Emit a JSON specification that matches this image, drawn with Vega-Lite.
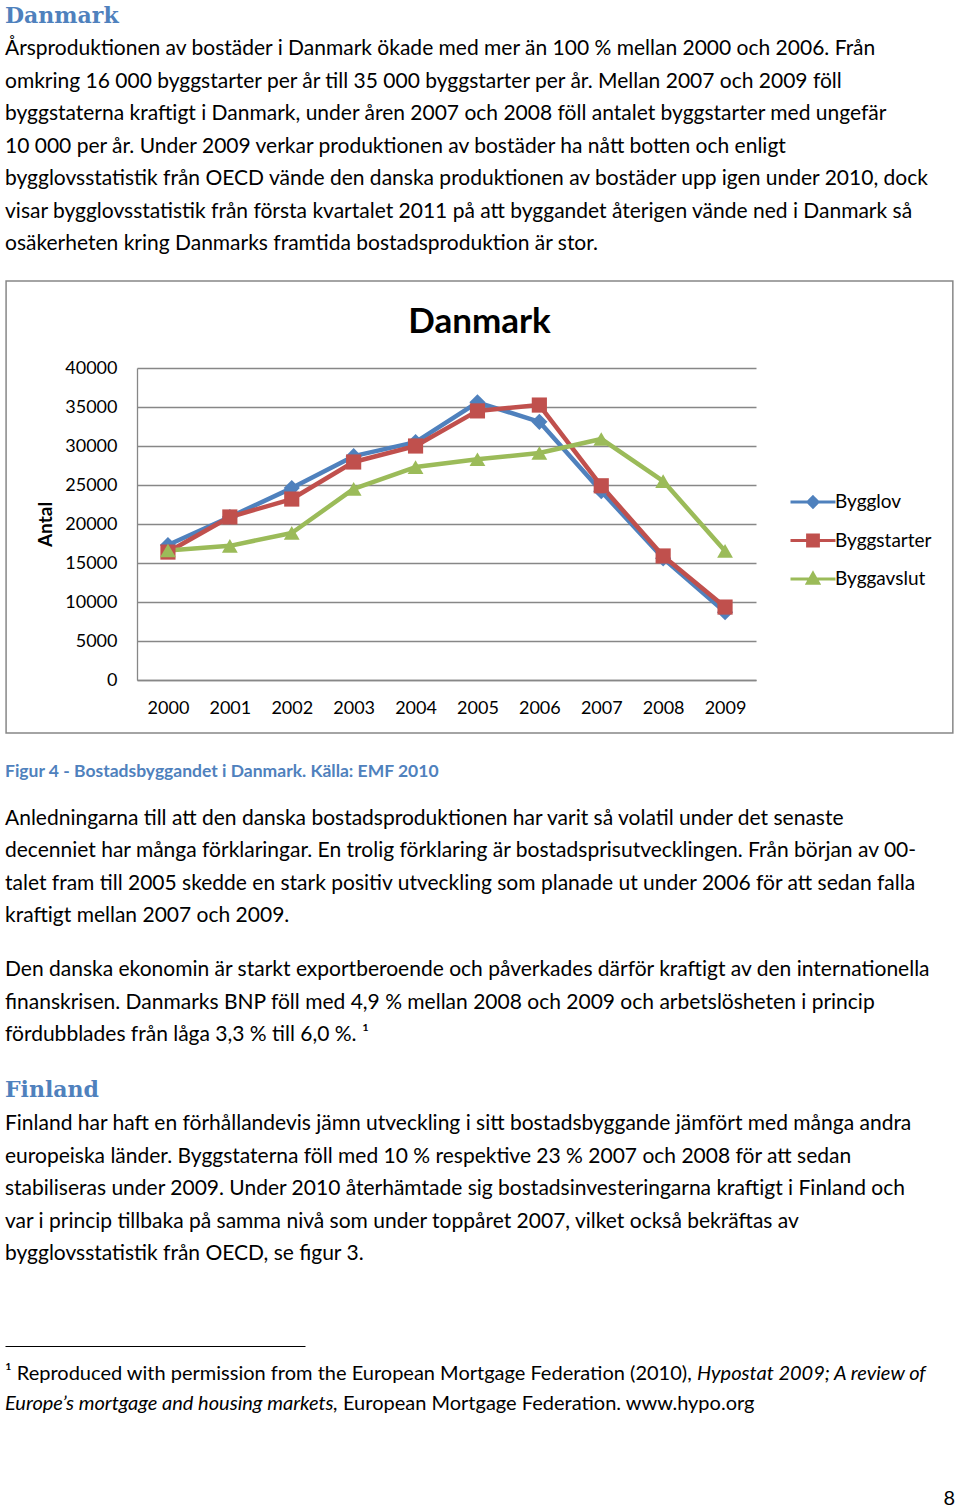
{
  "$schema": "https://vega.github.io/schema/vega-lite/v6.json",
  "background": "white",
  "padding": {"left": 5, "top": 5, "right": 0, "bottom": 0},
  "spacing": 0,
  "config": {"view": {"stroke": null}, "title": {"anchor": "start", "frame": "group", "offset": 0}},
  "vconcat": [
    {
      "spacing": 0,
      "vconcat": [
        {
          "width": 950, "height": 25,
          "data": {"values": [{}]},
          "mark": {"type": "text", "text": "", "fontSize": 0},
          "title": {
            "text": "Danmark", "orient": "top", "anchor": "start", "dx": -132,
            "font": "DejaVu Serif", "fontSize": 22, "fontWeight": "bold", "color": "#4F81BD", "offset": 0,
            "subtitle": [
              "Årsproduktionen av bostäder i Danmark ökade med mer än 100 % mellan 2000 och 2006. Från",
              "omkring 16 000 byggstarter per år till 35 000 byggstarter per år. Mellan 2007 och 2009 föll",
              "byggstaterna kraftigt i Danmark, under åren 2007 och 2008 föll antalet byggstarter med ungefär",
              "10 000 per år. Under 2009 verkar produktionen av bostäder ha nått botten och enligt",
              "bygglovsstatistik från OECD vände den danska produktionen av bostäder upp igen under 2010, dock",
              "visar bygglovsstatistik från första kvartalet 2011 på att byggandet återigen vände ned i Danmark så",
              "osäkerheten kring Danmarks framtida bostadsproduktion är stor."
            ],
            "subtitleFont": "Lato", "subtitleFontSize": 21, "subtitleFontWeight": "normal",
            "subtitleColor": "#000000", "subtitleLineHeight": 32.5, "subtitlePadding": 10
          }
        },
        {
          "width": 619, "height": 312,
          "title": {"text": "Danmark", "orient": "top", "anchor": "middle", "frame": "bounds", "font": "Lato", "fontSize": 35, "fontWeight": "bold", "color": "#000000", "offset": -60},
          "data": {"values": [
            {"year": 2000, "serie": "Bygglov", "value": 17300},
            {"year": 2001, "serie": "Bygglov", "value": 20900},
            {"year": 2002, "serie": "Bygglov", "value": 24600},
            {"year": 2003, "serie": "Bygglov", "value": 28700},
            {"year": 2004, "serie": "Bygglov", "value": 30500},
            {"year": 2005, "serie": "Bygglov", "value": 35600},
            {"year": 2006, "serie": "Bygglov", "value": 33100},
            {"year": 2007, "serie": "Bygglov", "value": 24200},
            {"year": 2008, "serie": "Bygglov", "value": 15600},
            {"year": 2009, "serie": "Bygglov", "value": 8700},
            {"year": 2000, "serie": "Byggstarter", "value": 16400},
            {"year": 2001, "serie": "Byggstarter", "value": 20900},
            {"year": 2002, "serie": "Byggstarter", "value": 23200},
            {"year": 2003, "serie": "Byggstarter", "value": 27950},
            {"year": 2004, "serie": "Byggstarter", "value": 30000},
            {"year": 2005, "serie": "Byggstarter", "value": 34500},
            {"year": 2006, "serie": "Byggstarter", "value": 35250},
            {"year": 2007, "serie": "Byggstarter", "value": 24900},
            {"year": 2008, "serie": "Byggstarter", "value": 15900},
            {"year": 2009, "serie": "Byggstarter", "value": 9350},
            {"year": 2000, "serie": "Byggavslut", "value": 16600},
            {"year": 2001, "serie": "Byggavslut", "value": 17200},
            {"year": 2002, "serie": "Byggavslut", "value": 18850},
            {"year": 2003, "serie": "Byggavslut", "value": 24500},
            {"year": 2004, "serie": "Byggavslut", "value": 27300},
            {"year": 2005, "serie": "Byggavslut", "value": 28300},
            {"year": 2006, "serie": "Byggavslut", "value": 29100},
            {"year": 2007, "serie": "Byggavslut", "value": 30900},
            {"year": 2008, "serie": "Byggavslut", "value": 25500},
            {"year": 2009, "serie": "Byggavslut", "value": 16550}
          ]},
          "layer": [
            {
              "transform": [{"filter": "datum.serie === 'Bygglov'"}],
              "mark": {"type": "line", "strokeWidth": 4.5, "strokeJoin": "round", "color": "#4F81BD"},
              "encoding": {
                "x": {"field": "year", "type": "quantitative",
                  "scale": {"domain": [1999.5, 2009.5], "nice": false, "zero": false},
                  "axis": {"values": [2000, 2001, 2002, 2003, 2004, 2005, 2006, 2007, 2008, 2009], "format": "d", "title": null,
                    "labelFont": "Lato", "labelFontSize": 18, "labelColor": "#000000", "labelPadding": 19, "labelFlush": false, "labelOverlap": false,
                    "ticks": false, "tickSize": 0, "grid": false, "domain": true, "domainColor": "#878787", "domainWidth": 1.3}},
                "y": {"field": "value", "type": "quantitative",
                  "scale": {"domain": [0, 40000], "nice": false},
                  "axis": {"values": [0, 5000, 10000, 15000, 20000, 25000, 30000, 35000, 40000], "tickCount": 9, "format": "d",
                    "labelFont": "Lato", "labelFontSize": 18, "labelColor": "#000000", "labelPadding": 20, "labelOverlap": false, "labelFlush": false,
                    "ticks": false, "tickSize": 0, "domain": true, "domainColor": "#878787", "domainWidth": 1.3,
                    "grid": true, "gridColor": "#878787", "gridWidth": 1.3,
                    "title": "Antal", "titleFont": "Lato", "titleFontSize": 19, "titleFontWeight": "bold", "titleColor": "#000000", "titlePadding": 9}}
              }
            },
            {
              "data": {"values": [{}]},
              "mark": {"type": "rect", "fill": "transparent", "stroke": "#878787", "strokeWidth": 1.5},
              "encoding": {
                "x": {"datum": 1997.385, "type": "quantitative", "scale": {"domain": [1999.5, 2009.5], "nice": false, "zero": false},
                  "axis": {"values": [2000, 2001, 2002, 2003, 2004, 2005, 2006, 2007, 2008, 2009], "format": "d", "title": null,
                    "labelFont": "Lato", "labelFontSize": 18, "labelColor": "#000000", "labelPadding": 19, "labelFlush": false, "labelOverlap": false,
                    "ticks": false, "tickSize": 0, "grid": false, "domain": true, "domainColor": "#878787", "domainWidth": 1.3}},
                "x2": {"datum": 2012.68},
                "y": {"datum": 51154, "type": "quantitative", "scale": {"domain": [0, 40000], "nice": false},
                  "axis": {"values": [0, 5000, 10000, 15000, 20000, 25000, 30000, 35000, 40000], "tickCount": 9, "format": "d",
                    "labelFont": "Lato", "labelFontSize": 18, "labelColor": "#000000", "labelPadding": 20, "labelOverlap": false, "labelFlush": false,
                    "ticks": false, "tickSize": 0, "domain": true, "domainColor": "#878787", "domainWidth": 1.3,
                    "grid": true, "gridColor": "#878787", "gridWidth": 1.3,
                    "title": "Antal", "titleFont": "Lato", "titleFontSize": 19, "titleFontWeight": "bold", "titleColor": "#000000", "titlePadding": 9}},
                "y2": {"datum": -6795}
              }
            },
            {
              "transform": [{"filter": "datum.serie === 'Byggstarter'"}],
              "mark": {"type": "line", "strokeWidth": 4.5, "strokeJoin": "round", "color": "#C0504D"},
              "encoding": {"x": {"field": "year", "type": "quantitative"}, "y": {"field": "value", "type": "quantitative"}}
            },
            {
              "transform": [{"filter": "datum.serie === 'Byggavslut'"}],
              "mark": {"type": "line", "strokeWidth": 4.5, "strokeJoin": "round", "color": "#9BBB59"},
              "encoding": {"x": {"field": "year", "type": "quantitative"}, "y": {"field": "value", "type": "quantitative"}}
            },
            {
              "transform": [{"filter": "datum.serie === 'Bygglov'"}],
              "mark": {"type": "point", "shape": "diamond", "filled": true, "size": 260, "color": "#4F81BD", "opacity": 1},
              "encoding": {"x": {"field": "year", "type": "quantitative"}, "y": {"field": "value", "type": "quantitative"}}
            },
            {
              "transform": [{"filter": "datum.serie === 'Byggstarter'"}],
              "mark": {"type": "point", "shape": "square", "filled": true, "size": 230, "color": "#C0504D", "opacity": 1},
              "encoding": {"x": {"field": "year", "type": "quantitative"}, "y": {"field": "value", "type": "quantitative"}}
            },
            {
              "transform": [{"filter": "datum.serie === 'Byggavslut'"}],
              "mark": {"type": "point", "shape": "triangle-up", "filled": true, "size": 250, "color": "#9BBB59", "opacity": 1},
              "encoding": {"x": {"field": "year", "type": "quantitative"}, "y": {"field": "value", "type": "quantitative"}}
            },
            {
              "transform": [{"filter": "false"}],
              "mark": {"type": "point", "filled": true, "size": 506, "strokeWidth": 3, "opacity": 1},
              "encoding": {
                "x": {"field": "year", "type": "quantitative"},
                "y": {"field": "value", "type": "quantitative"},
                "color": {"field": "serie", "type": "nominal",
                  "scale": {"domain": ["Bygglov", "Byggstarter", "Byggavslut"], "range": ["#4F81BD", "#C0504D", "#9BBB59"]},
                  "legend": {"orient": "none", "legendX": 663, "legendY": 234, "title": null, "padding": 0,
                    "labelFont": "Lato", "labelFontSize": 19, "labelColor": "#000000", "labelOffset": 9,
                    "symbolSize": 506, "symbolStrokeWidth": 3, "symbolOpacity": 1, "rowPadding": 13.5}},
                "stroke": {"field": "serie", "type": "nominal",
                  "scale": {"domain": ["Bygglov", "Byggstarter", "Byggavslut"], "range": ["#4F81BD", "#C0504D", "#9BBB59"]},
                  "legend": {"orient": "none", "legendX": 663, "legendY": 234, "title": null, "padding": 0,
                    "labelFont": "Lato", "labelFontSize": 19, "labelColor": "#000000", "labelOffset": 9,
                    "symbolSize": 506, "symbolStrokeWidth": 3, "symbolOpacity": 1, "rowPadding": 13.5}},
                "shape": {"field": "serie", "type": "nominal",
                  "scale": {"domain": ["Bygglov", "Byggstarter", "Byggavslut"],
                    "range": ["M-2,0H2M0,-0.45L0.45,0L0,0.45L-0.45,0Z", "M-2,0H2M-0.48,-0.48H0.48V0.48H-0.48Z", "M-2,0H2M0,-0.5L0.5,0.38H-0.5Z"]},
                  "legend": {"orient": "none", "legendX": 663, "legendY": 234, "title": null, "padding": 0,
                    "labelFont": "Lato", "labelFontSize": 19, "labelColor": "#000000", "labelOffset": 9,
                    "symbolSize": 506, "symbolStrokeWidth": 3, "symbolOpacity": 1, "rowPadding": 13.5}}
              }
            }
          ]
        },
        {
          "width": 950, "height": 29,
          "data": {"values": [{}]},
          "mark": {"type": "text", "text": "", "fontSize": 0},
          "title": {
            "text": "Figur 4 - Bostadsbyggandet i Danmark. Källa: EMF 2010", "orient": "bottom", "anchor": "start", "dx": -132,
            "font": "Lato", "fontSize": 17.5, "fontWeight": "bold", "color": "#4F81BD", "offset": 0,
            "subtitle": [
              "Anledningarna till att den danska bostadsproduktionen har varit så volatil under det senaste",
              "decenniet har många förklaringar. En trolig förklaring är bostadsprisutvecklingen. Från början av 00-",
              "talet fram till 2005 skedde en stark positiv utveckling som planade ut under 2006 för att sedan falla",
              "kraftigt mellan 2007 och 2009."
            ],
            "subtitleFont": "Lato", "subtitleFontSize": 21, "subtitleFontWeight": "normal",
            "subtitleColor": "#000000", "subtitleLineHeight": 32.5, "subtitlePadding": 27
          }
        },
        {
          "width": 950, "height": 33,
          "data": {"values": [{}]},
          "mark": {"type": "text", "text": "", "fontSize": 0},
          "title": {
            "text": [
              "Den danska ekonomin är starkt exportberoende och påverkades därför kraftigt av den internationella",
              "finanskrisen. Danmarks BNP föll med 4,9 % mellan 2008 och 2009 och arbetslösheten i princip",
              "fördubblades från låga 3,3 % till 6,0 %. ¹"
            ],
            "orient": "bottom", "anchor": "start", "dx": -132, "font": "Lato", "fontSize": 21, "fontWeight": "normal",
            "color": "#000000", "lineHeight": 32.5, "offset": 0
          }
        },
        {
          "width": 950, "height": 35,
          "data": {"values": [{}]},
          "mark": {"type": "text", "text": "", "fontSize": 0},
          "title": {
            "text": "Finland", "orient": "bottom", "anchor": "start", "dx": -132,
            "font": "DejaVu Serif", "fontSize": 22, "fontWeight": "bold", "color": "#4F81BD", "offset": 0,
            "subtitle": [
              "Finland har haft en förhållandevis jämn utveckling i sitt bostadsbyggande jämfört med många andra",
              "europeiska länder. Byggstaterna föll med 10 % respektive 23 % 2007 och 2008 för att sedan",
              "stabiliseras under 2009. Under 2010 återhämtade sig bostadsinvesteringarna kraftigt i Finland och",
              "var i princip tillbaka på samma nivå som under toppåret 2007, vilket också bekräftas av",
              "bygglovsstatistik från OECD, se figur 3."
            ],
            "subtitleFont": "Lato", "subtitleFontSize": 21, "subtitleFontWeight": "normal",
            "subtitleColor": "#000000", "subtitleLineHeight": 32.5, "subtitlePadding": 11
          }
        },
        {
          "width": 300, "height": 82,
          "data": {"values": [{}]},
          "mark": {"type": "text", "text": "", "fontSize": 0},
          "encoding": {
            "x": {"datum": 0, "type": "quantitative", "scale": {"domain": [0, 1], "range": [-132, 168]},
              "axis": {"domain": true, "domainColor": "#000000", "domainWidth": 1, "ticks": false, "labels": false, "grid": false, "title": null}}
          }
        }
      ]
    },
    {
      "spacing": 4,
      "hconcat": [
        {
          "width": 1, "height": 18,
          "data": {"values": [{}]},
          "mark": {"type": "text", "text": "", "fontSize": 0},
          "title": {"text": "¹ Reproduced with permission from the European Mortgage Federation (2010),", "orient": "bottom", "anchor": "start", "dx": -132,
            "font": "Lato", "fontSize": 20, "fontWeight": "normal", "color": "#000000", "offset": 0}
        },
        {
          "width": 1, "height": 18,
          "data": {"values": [{}]},
          "mark": {"type": "text", "text": "", "fontSize": 0},
          "title": {"text": "Hypostat 2009; A review of", "orient": "bottom", "anchor": "start", "dx": -132,
            "font": "Lato", "fontSize": 20, "fontWeight": "normal", "fontStyle": "italic", "color": "#000000", "offset": 0}
        }
      ]
    },
    {
      "spacing": 4,
      "hconcat": [
        {
          "width": 1, "height": 10,
          "data": {"values": [{}]},
          "mark": {"type": "text", "text": "", "fontSize": 0},
          "title": {"text": "Europe’s mortgage and housing markets,", "orient": "bottom", "anchor": "start", "dx": -132,
            "font": "Lato", "fontSize": 20, "fontWeight": "normal", "fontStyle": "italic", "color": "#000000", "offset": 0}
        },
        {
          "width": 1, "height": 10,
          "data": {"values": [{}]},
          "mark": {"type": "text", "text": "", "fontSize": 0},
          "title": {"text": "European Mortgage Federation. www.hypo.org", "orient": "bottom", "anchor": "start", "dx": -132,
            "font": "Lato", "fontSize": 20, "fontWeight": "normal", "color": "#000000", "offset": 0}
        }
      ]
    },
    {
      "width": 950, "height": 75,
      "data": {"values": [{}]},
      "mark": {"type": "text", "text": "", "fontSize": 0},
      "title": {"text": "8", "orient": "bottom", "anchor": "end", "dx": -132, "font": "Lato", "fontSize": 20, "fontWeight": "normal", "color": "#000000", "offset": 0}
    }
  ]
}
